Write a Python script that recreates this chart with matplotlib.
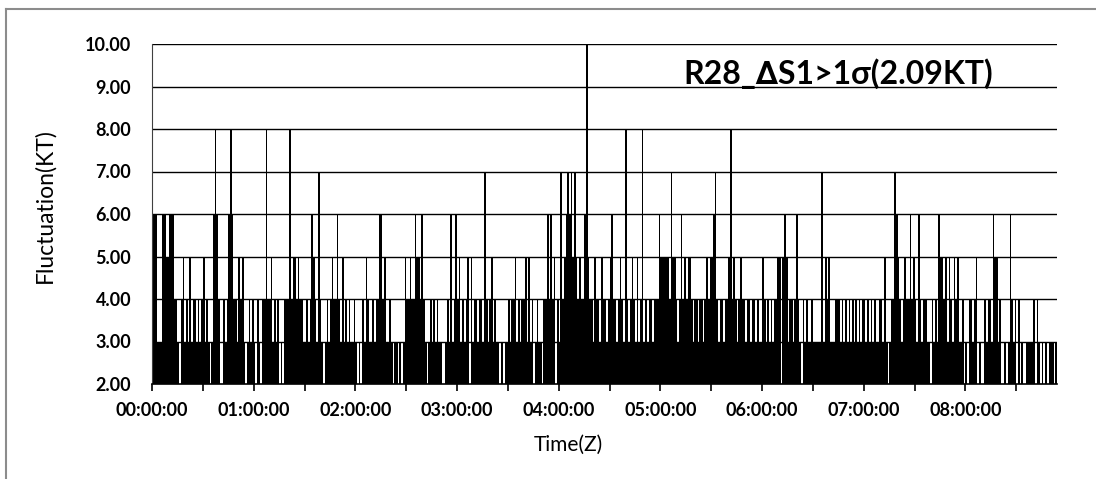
"""Fluctuation chart for R28 delta S1 above 1 sigma (2.09 KT), one bar per minute."""

import numpy as np
import matplotlib
matplotlib.use("Agg")
import matplotlib.pyplot as plt
from matplotlib.lines import Line2D

# per-minute fluctuation values (KT); 2 means no exceedance
seg_0 = [6, 6, 6, 3, 3, 3, 6, 6, 5, 5, 6, 6, 6, 4, 4, 3, 2, 4, 5, 3,
         4, 3, 5, 3, 4, 4, 3, 4, 3, 4, 5, 3, 4, 3, 2, 3, 6, 8, 6, 4,
         2, 2, 4, 3, 4, 6, 8, 6, 4, 4, 3, 5, 4, 5, 3, 2, 3, 4, 3, 4]
seg_1 = [3, 2, 4, 3, 2, 4, 4, 8, 4, 4, 5, 3, 4, 3, 4, 2, 3, 2, 4, 4,
         4, 8, 4, 5, 5, 4, 5, 4, 4, 3, 3, 4, 3, 4, 6, 5, 4, 3, 7, 4, 3,
         2, 3, 4, 3, 4, 5, 4, 4, 6, 4, 3, 5, 3, 4, 3, 4, 3, 3, 4, 3]
seg_2 = [2, 3, 2, 4, 3, 5, 4, 3, 3, 4, 3, 4, 4, 6, 6, 4, 5, 3, 3, 4,
         3, 2, 3, 3, 2, 3, 2, 3, 5, 4, 4, 5, 4, 4, 6, 5, 5, 4, 6, 4,
         3, 2, 3, 4, 3, 4, 3, 4, 3, 3, 2, 2, 3, 4, 3, 6, 3, 4, 6, 4]
seg_3 = [5, 3, 4, 3, 4, 5, 2, 5, 3, 4, 4, 3, 4, 4, 3, 7, 4, 3, 4, 5,
         3, 4, 3, 3, 2, 3, 2, 3, 3, 4, 3, 4, 4, 5, 3, 4, 3, 4, 4, 5, 3,
         5, 3, 4, 2, 3, 4, 3, 3, 2, 4, 4, 6, 4, 6, 4, 5, 2, 4, 3, 7]
seg_4 = [4, 5, 6, 7, 6, 7, 5, 7, 5, 4, 5, 4, 4, 6, 10, 5, 4, 4, 3, 5,
         4, 4, 3, 5, 4, 4, 3, 4, 5, 6, 4, 4, 3, 4, 5, 4, 3, 8, 4, 3,
         4, 5, 4, 3, 5, 3, 4, 8, 3, 4, 3, 4, 4, 3, 4, 4, 4, 6, 5, 5]
seg_5 = [5, 5, 5, 4, 7, 5, 5, 4, 3, 4, 6, 4, 5, 4, 5, 5, 4, 3, 4, 4,
         3, 4, 4, 3, 4, 5, 4, 5, 5, 6, 7, 4, 3, 4, 4, 3, 4, 4, 5, 8, 4,
         5, 4, 3, 4, 5, 4, 4, 3, 4, 4, 3, 4, 4, 3, 4, 3, 3, 5, 4, 3]
seg_6 = [4, 3, 4, 3, 4, 4, 5, 5, 2, 5, 6, 5, 3, 4, 4, 3, 4, 6, 4, 3,
         2, 4, 3, 4, 3, 3, 4, 3, 3, 3, 3, 3, 7, 3, 5, 4, 5, 3, 3, 3,
         4, 4, 4, 3, 4, 3, 4, 3, 4, 3, 4, 3, 4, 3, 4, 3, 4, 4, 3, 4]
seg_7 = [3, 4, 3, 4, 3, 3, 4, 4, 3, 5, 3, 2, 3, 4, 4, 7, 6, 5, 4, 3,
         4, 5, 4, 4, 6, 4, 5, 4, 3, 6, 4, 3, 4, 4, 3, 3, 2, 4, 3, 4, 3,
         6, 5, 5, 4, 5, 3, 5, 4, 3, 5, 4, 5, 3, 3, 4, 2, 3, 2, 4, 4]
seg_8 = [3, 4, 5, 2, 3, 2, 2, 4, 3, 4, 4, 3, 6, 5, 5, 3, 4, 2, 2, 3,
         2, 3, 6, 4, 3, 4, 2, 4, 2, 3, 2, 2, 3, 3, 3, 3, 4, 2, 4, 3,
         2, 3, 2, 3, 2, 3, 3, 3, 2, 3]

values = np.array(seg_0 + seg_1 + seg_2 + seg_3 + seg_4 + seg_5 + seg_6 + seg_7 + seg_8)
minutes = np.arange(len(values))

y_ticks = [2, 3, 4, 5, 6, 7, 8, 9, 10]
x_major = list(range(0, 481, 60))
x_minor = list(range(30, 511, 60))
x_labels = [f"{h:02d}:00:00" for h in range(9)]

title_text = "R28_\u2206S1>1\u03c3(2.09KT)"
font_list = ["Lato", "DejaVu Sans"]

fig = plt.figure(figsize=(10.96, 4.79), dpi=100)
ax = fig.add_axes([152 / 1096, 1 - 384 / 479, (1057 - 152) / 1096, (384 - 44) / 479])

# thin gray frame of the chart area (left and top edges show in the original)
fig.add_artist(Line2D([6 / 1096, 6 / 1096], [0, 1 - 9 / 479], transform=fig.transFigure,
                      color="#8c8c8c", lw=1.5))
fig.add_artist(Line2D([6 / 1096, 1], [1 - 9 / 479, 1 - 9 / 479], transform=fig.transFigure,
                      color="#8c8c8c", lw=1.5))

for yv in y_ticks[1:]:
    ax.axhline(yv, color="black", lw=1.0, zorder=1)

ax.bar(minutes + 0.5, values - 2, bottom=2, width=1.0, color="black",
       linewidth=0, antialiased=False, zorder=2)

ax.set_xlim(0, len(values))
ax.set_ylim(2, 10)

ax.set_yticks(y_ticks)
ax.set_yticklabels([f"{v:.2f}" for v in y_ticks], fontfamily=font_list,
                   fontweight="bold", fontsize=13)
ax.tick_params(axis="y", length=0, pad=15)

ax.set_xticks(x_major)
ax.set_xticklabels(x_labels, fontfamily=font_list, fontweight="bold", fontsize=13)
ax.set_xticks(x_minor, minor=True)
ax.tick_params(axis="x", which="both", direction="out", length=5, width=1.2,
               color="black", pad=8)

for side in ("top", "right"):
    ax.spines[side].set_visible(False)
ax.spines["left"].set_color("#404040")
ax.spines["bottom"].set_color("black")
ax.spines["bottom"].set_linewidth(1.2)

fig.text(838 / 1096, 1 - 74 / 479, title_text, ha="center", va="center",
         fontfamily=font_list, fontweight="bold", fontsize=23)
fig.text(45 / 1096, 1 - 206 / 479, "Fluctuation(KT)", rotation=90, ha="center",
         va="center", fontfamily=font_list, fontsize=16.5)
fig.text(568 / 1096, 1 - 445 / 479, "Time(Z)", ha="center", va="center",
         fontfamily=font_list, fontsize=15)

fig.savefig("out.png", dpi=100)
